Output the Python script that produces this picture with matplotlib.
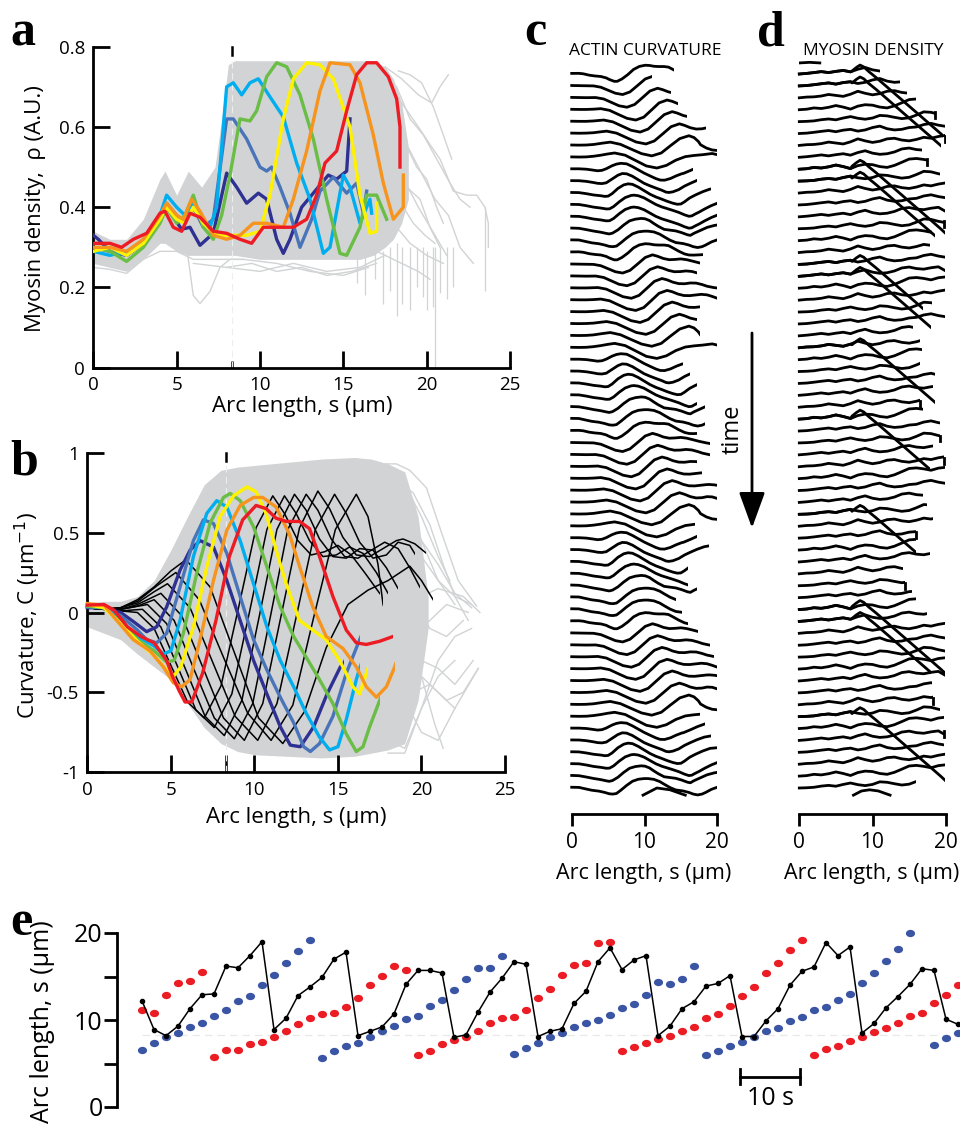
import matplotlib
matplotlib.use("Agg")
import matplotlib.pyplot as plt
import numpy as np
from matplotlib.patches import Rectangle, FancyArrowPatch
from matplotlib.path import Path
from matplotlib.transforms import Affine2D

plt.rcParams['font.family'] = ['Open Sans', 'DejaVu Sans']
plt.rcParams['axes.unicode_minus'] = False

# ---------------- data ----------------
S_REF = 8.3   # reference arc length (dashed line in a, b, e)

# panel a: myosin density of the seven highlighted frames
a_db_s = [0, 0.3, 1, 2, 3, 4, 4.4, 4.8, 5.3, 5.8, 6.4, 7.2, 8, 8.6, 9.2, 9.9, 10.4, 11, 11.4, 11.8, 12.5, 13.2, 14.1, 14.6, 15.2, 15.4]
a_db_v = [0.33, 0.32, 0.29, 0.28, 0.31, 0.37, 0.40, 0.375, 0.345, 0.35, 0.305, 0.335, 0.485, 0.45, 0.41, 0.435, 0.42, 0.32, 0.285, 0.32, 0.40, 0.435, 0.48, 0.47, 0.49, 0.62]
a_mb_s = [0, 1, 2, 3, 4, 4.4, 5, 5.5, 6, 6.6, 7.2, 8, 8.4, 9.2, 10, 10.4, 10.7, 11.2, 11.8, 12.4, 13.1, 13.6, 14.4, 15.2, 15.8, 16.2, 16.4]
a_mb_v = [0.30, 0.29, 0.28, 0.31, 0.37, 0.41, 0.38, 0.36, 0.40, 0.35, 0.37, 0.62, 0.62, 0.57, 0.50, 0.49, 0.50, 0.45, 0.385, 0.30, 0.37, 0.44, 0.475, 0.435, 0.46, 0.385, 0.44]
a_lb_s = [0, 1, 2, 3, 4, 4.4, 5, 5.5, 6, 6.6, 7.0, 7.4, 8, 8.4, 8.9, 9.4, 9.9, 10.6, 11.4, 12.2, 13, 13.8, 14.2, 15, 15.4, 16, 16.6, 16.7]
a_lb_v = [0.29, 0.28, 0.29, 0.31, 0.38, 0.43, 0.40, 0.38, 0.41, 0.36, 0.35, 0.40, 0.70, 0.71, 0.68, 0.71, 0.72, 0.675, 0.625, 0.51, 0.42, 0.285, 0.30, 0.48, 0.45, 0.36, 0.42, 0.385]
a_g_s = [0, 1, 2, 3, 4, 4.4, 5, 5.5, 6, 6.6, 7.2, 7.7, 8.2, 8.8, 9.4, 9.8, 10.4, 11, 11.6, 12.4, 13.2, 14, 14.8, 15.2, 16, 16.4, 17, 17.6]
a_g_v = [0.30, 0.29, 0.265, 0.30, 0.36, 0.40, 0.36, 0.38, 0.43, 0.35, 0.32, 0.38, 0.48, 0.62, 0.615, 0.64, 0.725, 0.76, 0.75, 0.68, 0.57, 0.42, 0.285, 0.28, 0.35, 0.43, 0.43, 0.37]
a_y_s = [0, 1, 2, 3, 4, 4.4, 5, 5.5, 6, 6.6, 7.4, 8.4, 9.2, 10, 10.6, 11.4, 12, 12.8, 13.6, 14.4, 15.4, 16, 16.6, 17, 17]
a_y_v = [0.29, 0.30, 0.28, 0.31, 0.37, 0.40, 0.37, 0.36, 0.40, 0.36, 0.33, 0.33, 0.33, 0.34, 0.43, 0.62, 0.72, 0.76, 0.755, 0.72, 0.60, 0.43, 0.335, 0.34, 0.41]
a_o_s = [0, 1, 2, 3, 4, 4.4, 5, 5.4, 5.9, 6.4, 7.2, 8, 8.8, 9.6, 10.4, 11.4, 12, 12.8, 13.6, 14.2, 15.4, 16, 16.8, 17.4, 18, 18.6, 18.6]
a_o_v = [0.30, 0.30, 0.29, 0.32, 0.38, 0.41, 0.38, 0.37, 0.42, 0.39, 0.33, 0.32, 0.33, 0.36, 0.36, 0.35, 0.42, 0.54, 0.69, 0.76, 0.755, 0.71, 0.58, 0.46, 0.37, 0.40, 0.48]
a_r_s = [0, 1, 1.7, 2.4, 3.2, 4.0, 4.3, 4.8, 5.3, 5.8, 6.4, 7.2, 8.0, 8.8, 9.5, 10.2, 11.0, 12.0, 12.8, 13.4, 13.9, 14.6, 15.2, 15.8, 16.4, 17.0, 17.7, 18.2, 18.4, 18.4]
a_r_v = [0.31, 0.31, 0.30, 0.32, 0.335, 0.385, 0.39, 0.35, 0.34, 0.385, 0.375, 0.34, 0.335, 0.32, 0.31, 0.35, 0.35, 0.35, 0.37, 0.43, 0.51, 0.54, 0.64, 0.73, 0.76, 0.76, 0.725, 0.67, 0.6, 0.5]

# panel a: grey background (all frames)
a_env_s = [0, 1, 2, 3, 4, 4.3, 5, 5.7, 6.5, 7.3, 7.7, 8.1, 8.5, 10, 12, 14, 16, 16.8, 17.5, 18, 18.5, 18.9]
a_env_hi = [0.34, 0.32, 0.32, 0.37, 0.47, 0.49, 0.43, 0.49, 0.45, 0.50, 0.62, 0.755, 0.765, 0.765, 0.765, 0.765, 0.765, 0.765, 0.75, 0.72, 0.66, 0.55]
a_env_lo = [0.26, 0.25, 0.24, 0.27, 0.31, 0.31, 0.29, 0.28, 0.28, 0.28, 0.28, 0.28, 0.28, 0.27, 0.27, 0.27, 0.27, 0.28, 0.30, 0.32, 0.36, 0.42]
a_gray_s = [[5.0, 5.6, 6.0, 6.4, 7.0, 7.6, 8.2, 9.0],
            [0, 1, 2, 3, 4, 5, 6, 7, 9, 11, 13, 15, 16.5],
            [6, 8, 10, 12, 14, 16, 17.5],
            [17.5, 18.5, 19.5, 20.3, 20.8, 21.3],
            [17.5, 18.5, 19.5, 20.3, 20.8, 21.6, 22.4, 23.0, 23.5, 23.7, 23.7],
            [17.5, 18.5, 19.5, 20.5, 21.3, 22.0, 22.8],
            [17.5, 18.5, 19.5, 20.5, 21.2],
            [17.0, 18.0, 19.0, 20.0, 21.0],
            [17.0, 17.8, 18.6, 19.4, 20.0, 20.6, 21.0],
            [17.5, 18.2, 19.0, 19.8, 20.6, 21.4, 22.0, 22.6],
            [18.0, 18.8, 19.6, 20.2, 20.8],
            [16.5, 17.5, 18.5, 19.5, 20.2],
            [18.3, 19.0, 19.7, 20.4, 21.0, 21.5],
            [17.8, 18.6, 19.2, 19.9, 20.5],
            [8, 9.5, 11, 12.5, 14, 15.5, 17]]
a_gray_v = [[0.36, 0.30, 0.18, 0.16, 0.19, 0.25, 0.27, 0.27],
            [0.25, 0.245, 0.235, 0.27, 0.29, 0.29, 0.27, 0.27, 0.27, 0.26, 0.24, 0.23, 0.25],
            [0.26, 0.25, 0.24, 0.26, 0.24, 0.25, 0.28],
            [0.75, 0.72, 0.68, 0.66, 0.70, 0.73],
            [0.70, 0.66, 0.60, 0.55, 0.52, 0.44, 0.43, 0.43, 0.40, 0.36, 0.30],
            [0.64, 0.58, 0.50, 0.42, 0.38, 0.30, 0.26],
            [0.55, 0.48, 0.40, 0.33, 0.28],
            [0.40, 0.36, 0.31, 0.28, 0.26],
            [0.60, 0.62, 0.57, 0.50, 0.47, 0.40, 0.36],
            [0.72, 0.70, 0.62, 0.58, 0.52, 0.46, 0.42, 0.40],
            [0.52, 0.45, 0.42, 0.35, 0.30],
            [0.30, 0.28, 0.26, 0.24, 0.22],
            [0.74, 0.73, 0.71, 0.65, 0.58, 0.52],
            [0.45, 0.40, 0.36, 0.33, 0.31],
            [0.25, 0.26, 0.24, 0.25, 0.23, 0.24, 0.26]]
a_spike_s = [15.8, 16.3, 16.9, 17.4, 17.8, 18.2, 18.5, 19.0, 19.4, 19.8, 20.0, 20.4, 20.5, 20.8, 21.2, 21.6, 23.5]
a_spike_lo = [0.21, 0.18, 0.22, 0.16, 0.19, 0.13, 0.16, 0.144, 0.20, 0.177, 0.144, 0.152, 0.0, 0.185, 0.17, 0.20, 0.19]
a_spike_hi = [0.30, 0.30, 0.30, 0.29, 0.30, 0.31, 0.30, 0.30, 0.30, 0.30, 0.29, 0.30, 0.30, 0.30, 0.30, 0.30, 0.40]

# panel b: curvature frames (DB, MB, LB, G, Y, O, R, then eight black frames)
f_db_s = [0, 1, 2, 2.8, 3.55, 4.15, 4.75, 5.55, 6.15, 6.75, 7.55, 8.35, 9.15, 9.95, 10.75, 11.55, 12.15, 12.75, 13.55, 14.35, 15.15, 15.35, 16.3, 17.3, 18.3, 19.3, 20.1]
f_db_c = [0.03, 0.03, 0.0, -0.06, -0.12, -0.09, 0.035, 0.265, 0.39, 0.45, 0.41, 0.2, -0.05, -0.3, -0.51, -0.715, -0.83, -0.84, -0.715, -0.51, -0.34, -0.32, -0.1, 0.15, 0.35, 0.4, 0.3]
f_mb_s = [0, 1, 2, 3, 3.55, 4.15, 4.75, 5.55, 6.35, 6.95, 7.55, 8.35, 9.15, 9.95, 10.75, 11.55, 12.35, 12.95, 13.35, 13.9, 14.7, 15.5, 16.3, 17.2, 18.2, 19.2, 20.2]
f_mb_c = [0.035, 0.03, -0.02, -0.11, -0.17, -0.19, -0.13, 0.16, 0.45, 0.58, 0.557, 0.37, 0.1, -0.17, -0.36, -0.53, -0.69, -0.84, -0.87, -0.82, -0.65, -0.38, -0.17, 0.05, 0.25, 0.35, 0.3]
f_lb_s = [0, 1, 2, 3, 4, 4.55, 5.0, 5.55, 6.35, 7.15, 7.75, 8.35, 9.15, 9.95, 10.75, 11.55, 12.35, 13.1, 13.9, 14.5, 15.0, 15.5, 16.1, 16.3, 17.0, 18.0, 19.0, 20.0]
f_lb_c = [0.04, 0.03, -0.05, -0.15, -0.21, -0.26, -0.24, -0.05, 0.35, 0.62, 0.70, 0.66, 0.45, 0.18, -0.09, -0.3, -0.465, -0.63, -0.78, -0.86, -0.84, -0.67, -0.42, -0.35, -0.15, 0.1, 0.3, 0.35]
f_g_s = [0, 1, 2, 3, 4, 4.75, 5.2, 5.75, 6.55, 7.35, 8.15, 8.55, 9.15, 9.95, 10.75, 11.55, 12.35, 13.1, 13.9, 14.7, 15.5, 16.1, 16.5, 16.9, 17.5, 18.3, 19.2, 20.1]
f_g_c = [0.04, 0.03, -0.06, -0.17, -0.24, -0.31, -0.30, -0.13, 0.245, 0.56, 0.72, 0.745, 0.70, 0.536, 0.285, 0.035, -0.15, -0.28, -0.42, -0.57, -0.76, -0.87, -0.84, -0.715, -0.55, -0.3, -0.05, 0.15]
f_y_s = [0, 1, 2, 3, 4, 4.75, 5.15, 5.6, 6.35, 7.15, 7.95, 8.75, 9.55, 10.1, 10.7, 11.3, 11.9, 12.7, 13.5, 14.3, 15.1, 15.9, 16.3, 16.7, 16.8, 17.6, 18.6, 19.6, 20.2]
f_y_c = [0.05, 0.03, -0.07, -0.18, -0.27, -0.36, -0.40, -0.34, -0.09, 0.285, 0.6, 0.73, 0.786, 0.755, 0.62, 0.39, 0.18, -0.05, -0.11, -0.17, -0.3, -0.465, -0.51, -0.38, -0.35, -0.15, 0.1, 0.25, 0.3]
f_o_s = [0, 1, 1.6, 2.75, 3.75, 4.55, 5.15, 5.65, 6.15, 6.75, 7.55, 8.35, 9.15, 9.95, 10.5, 11.3, 12.1, 12.7, 13.5, 14.3, 15.3, 16.1, 16.7, 17.3, 17.9, 18.4, 19.2, 20.2]
f_o_c = [0.056, 0.046, -0.03, -0.17, -0.24, -0.34, -0.44, -0.465, -0.42, -0.17, 0.2, 0.515, 0.67, 0.72, 0.72, 0.66, 0.49, 0.29, 0.035, -0.15, -0.225, -0.34, -0.465, -0.53, -0.465, -0.34, -0.1, 0.1]
f_r_s = [0, 1, 1.6, 2.4, 3.2, 4.0, 4.75, 5.1, 5.5, 5.85, 6.25, 6.9, 7.7, 8.5, 9.3, 10.1, 10.7, 11.3, 11.9, 12.7, 13.3, 13.9, 14.7, 15.5, 16.1, 16.7, 17.5, 18.3, 19.3, 20.2]
f_r_c = [0.046, 0.05, 0.015, -0.09, -0.15, -0.19, -0.30, -0.40, -0.49, -0.56, -0.56, -0.38, -0.05, 0.35, 0.58, 0.67, 0.65, 0.59, 0.57, 0.57, 0.525, 0.35, 0.1, -0.11, -0.19, -0.2, -0.18, -0.15, -0.1, -0.05]
k1_s = [0, 1, 2, 3.0, 4.0, 5.0, 6.0, 7.0, 8.0, 9.05, 10.1, 11.1, 11.8, 12.6, 13.4, 14.2, 15.0, 15.8, 16.6, 17.5, 18.5, 19.5, 20.2]
k1_c = [0.03, 0.02, 0.01, 0.0, -0.10, -0.33, -0.56, -0.66, -0.46, 0.03, 0.53, 0.73, 0.62, 0.45, 0.36, 0.38, 0.42, 0.36, 0.25, 0.12, 0.0, -0.1, -0.15]
k2_s = [0, 1, 2, 3.3, 4.4, 5.45, 6.5, 7.6, 8.65, 9.7, 10.75, 11.8, 12.5, 13.3, 14.1, 14.9, 15.7, 16.5, 17.3, 18.0, 19.0, 20.2]
k2_c = [0.03, 0.02, 0.01, 0.02, -0.09, -0.35, -0.61, -0.72, -0.51, 0.0, 0.52, 0.73, 0.62, 0.45, 0.35, 0.36, 0.41, 0.37, 0.25, 0.12, 0.0, -0.1]
k3_s = [0, 1, 2, 3.6, 4.75, 5.9, 7.05, 8.2, 9.25, 10.3, 11.35, 12.4, 13.1, 13.9, 14.7, 15.5, 16.3, 17.1, 17.9, 18.6, 19.5, 20.2]
k3_c = [0.03, 0.02, 0.02, 0.05, -0.07, -0.36, -0.65, -0.77, -0.55, -0.02, 0.52, 0.74, 0.64, 0.46, 0.35, 0.34, 0.40, 0.39, 0.28, 0.15, 0.05, 0.0]
k4_s = [0, 1, 2, 3, 4.0, 5.2, 6.4, 7.6, 8.8, 9.9, 10.95, 12.0, 13.1, 13.8, 14.6, 15.4, 16.2, 17.0, 17.8, 18.6, 19.3, 19.9, 20.3]
k4_c = [0.03, 0.02, 0.02, 0.04, 0.08, -0.05, -0.36, -0.66, -0.79, -0.57, -0.03, 0.52, 0.74, 0.64, 0.46, 0.35, 0.34, 0.39, 0.44, 0.40, 0.28, 0.16, 0.1]
k5_s = [0, 1, 2, 3, 4.4, 5.65, 6.9, 8.15, 9.4, 10.5, 11.6, 12.7, 13.8, 14.5, 15.3, 16.1, 16.9, 17.7, 18.5, 18.9, 19.6, 20.3]
k5_c = [0.03, 0.02, 0.02, 0.05, 0.12, -0.02, -0.34, -0.66, -0.8, -0.57, -0.02, 0.53, 0.76, 0.65, 0.47, 0.36, 0.35, 0.40, 0.45, 0.46, 0.43, 0.37]
k6_s = [0, 1, 2, 3, 4, 4.8, 6.15, 7.5, 8.85, 10.2, 11.35, 12.5, 13.65, 14.8, 15.5, 16.3, 17.1, 17.9, 18.6, 19.3, 20.0]
k6_c = [0.03, 0.02, 0.03, 0.06, 0.13, 0.18, 0.03, -0.31, -0.65, -0.8, -0.57, -0.03, 0.52, 0.74, 0.62, 0.44, 0.34, 0.36, 0.44, 0.42, 0.30]
k7_s = [0, 1, 2, 3, 4.2, 5.3, 6.7, 8.15, 9.6, 11.0, 12.3, 13.55, 14.85, 16.1, 16.8, 17.4, 17.7, 18.5, 19.3, 20.2]
k7_c = [0.03, 0.02, 0.03, 0.07, 0.17, 0.25, 0.08, -0.28, -0.63, -0.8, -0.58, -0.03, 0.52, 0.74, 0.6, 0.3, 0.05, -0.2, -0.35, -0.4]
k8_s = [0, 1, 2, 3, 4, 5, 5.9, 7.35, 8.8, 10.25, 11.7, 13.0, 14.3, 15.6, 16.8, 18.0, 19.3, 20.0, 20.7]
k8_c = [0.03, 0.02, 0.03, 0.08, 0.16, 0.26, 0.33, 0.16, -0.25, -0.66, -0.82, -0.62, -0.22, 0.05, 0.14, 0.2, 0.29, 0.2, 0.08]
b_end = [15.35, 16.3, 16.3, 17.5, 16.8, 18.4, 18.3, 17.5, 18.0, 18.6, 19.9, 20.3, 19.6, 17.7, 20.7]

b_env_s = [0, 1, 2, 3, 4, 5, 6, 7, 8, 9, 10, 12, 14, 16, 17, 18, 19, 19.8, 20.4]
b_env_hi = [0.06, 0.07, 0.07, 0.1, 0.2, 0.39, 0.6, 0.8, 0.89, 0.91, 0.92, 0.94, 0.96, 0.97, 0.96, 0.93, 0.88, 0.6, 0.1]
b_env_lo = [-0.09, -0.13, -0.17, -0.26, -0.34, -0.42, -0.57, -0.72, -0.82, -0.87, -0.89, -0.9, -0.91, -0.9, -0.88, -0.86, -0.82, -0.55, -0.1]
b_gray_s = [[17, 18.5, 19.3, 20.3, 21.2, 22.2, 23.3],
            [17, 18, 19, 20, 21, 22],
            [16, 17, 18, 19, 20, 21, 22.5, 23.5],
            [17, 18, 19, 20, 21, 22, 23.1],
            [18, 19, 20, 21, 22],
            [19, 20, 20.8, 21.3],
            [18, 19.5, 20.5, 21.5, 22.5],
            [16, 18, 20, 21.5, 22.8],
            [19, 20, 21, 22, 23],
            [18, 19, 20, 21, 22, 23.4],
            [17.5, 18.5, 19.5, 20.5, 21.3, 22.0, 22.8],
            [18, 19, 20, 21, 22, 23],
            [17, 18, 19, 20, 21, 22, 23],
            [18.5, 19.5, 20.5, 21.5, 22.5, 23.4],
            [17, 18, 19, 20, 21, 22],
            [19, 20, 21, 21.7]]
b_gray_v = [[0.93, 0.93, 0.89, 0.78, 0.5, 0.2, 0.04],
            [0.9, 0.85, 0.7, 0.45, 0.2, 0.05],
            [0.5, 0.3, 0.15, 0.08, 0.1, 0.15, 0.1, 0.0],
            [-0.85, -0.7, -0.5, -0.3, -0.35, -0.45, -0.3],
            [-0.88, -0.88, -0.6, -0.4, -0.3],
            [-0.2, -0.4, -0.7, -0.85],
            [0.3, 0.1, -0.1, -0.15, -0.05],
            [-0.6, -0.4, -0.1, 0.05, 0.0],
            [0.6, 0.45, 0.3, 0.12, 0.03],
            [-0.3, -0.55, -0.75, -0.8, -0.6, -0.35],
            [0.8, 0.82, 0.75, 0.55, 0.3, 0.1, -0.05],
            [0.65, 0.55, 0.35, 0.2, 0.1, 0.05],
            [-0.6, -0.8, -0.85, -0.6, -0.3, -0.15, -0.1],
            [-0.7, -0.5, -0.45, -0.55, -0.5, -0.35],
            [0.0, -0.15, -0.3, -0.4, -0.5, -0.6],
            [0.8, 0.6, 0.35, 0.2]]

# panel c: frame shown in each trace (index into the frames above) and trace length
c_frame = [6, 7, 8, 10, 11, 12, 13, 14,
           0, 1, 2, 3, 3, 4, 5, 6, 7, 8, 9, 10, 11, 12, 13, 14,
           0, 1, 2, 3, 4, 5, 6, 7, 8, 9, 10, 11, 12, 13, 14,
           0, 1, 2, 3, 4, 5, 5, 6, 7, 8, 9, 10, 11, 12, 13, 14,
           0, 1, 2, 3, 4, 5]
c_end = [14.0, 11.0, 13.7, 14.6, 15.8, 18.5, 19.9, 19.9, 16.7, 17.2,
         19.2, 19.9, 19.9, 19.9, 19.9, 18.1, 17.6, 17.2, 19.9, 19.9,
         17.6, 17.2, 17.6, 19.9, 15.3, 16.2, 17.2, 17.2, 18.3, 18.3,
         17.2, 19.0, 19.0, 17.2, 17.9, 19.9, 19.9, 19.9, 16.9, 17.2,
         18.8, 16.0, 16.0, 17.2, 14.3, 15.2, 16.0, 17.4, 19.0, 19.5,
         19.9, 19.9, 19.9, 19.9, 17.6, 18.3, 19.2, 19.9, 19.9, 19.9, 19.9]
c_part_s = [9.8, 11.7, 13.5, 15.6]
c_part_v = [0.0, 0.6, 0.45, 0.0]

# panel d: myosin density traces (shape index, length, bright-front tails, end hooks)
d_grid = [0, 1, 2, 3, 4, 5, 6, 7, 8, 9, 10, 11, 12, 13, 14, 15, 16, 17, 18, 19, 20]
d_shape = [
    [0.00, 0.05, 0.12, 0.20, 0.12, 0.22, 0.30, 0.18, 0.40, 0.55, 0.35, 0.25, 0.30, 0.45, 0.70, 0.78, 0.65, 0.60, 0.72, 0.80, 0.45],
    [0.00, 0.03, 0.10, 0.18, 0.25, 0.15, 0.28, 0.35, 0.20, 0.30, 0.50, 0.62, 0.40, 0.30, 0.35, 0.50, 0.55, 0.75, 0.85, 0.70, 0.60],
    [0.00, 0.06, 0.08, 0.15, 0.28, 0.20, 0.12, 0.30, 0.55, 0.38, 0.25, 0.35, 0.55, 0.60, 0.45, 0.38, 0.50, 0.68, 0.60, 0.75, 0.85],
    [0.00, 0.04, 0.15, 0.10, 0.20, 0.35, 0.22, 0.05, 0.30, 0.42, 0.38, 0.22, 0.15, 0.32, 0.58, 0.85, 0.90, 0.82, 0.70, 0.88, 0.95],
    [0.00, 0.02, 0.06, 0.16, 0.22, 0.15, 0.30, 0.42, 0.28, 0.20, 0.30, 0.52, 0.48, 0.36, 0.25, 0.32, 0.55, 0.82, 0.78, 0.62, 0.50],
]
d_pick = [0, 1, 2, 3, 4, 1, 2, 0, 3, 4, 2, 1, 0, 4, 3, 2, 1, 0, 3, 2,
          4, 1, 0, 2, 3, 4, 1, 0, 2, 3, 1, 4, 0, 2, 3, 1, 0, 4, 2, 1,
          3, 0, 2, 4, 1, 3, 0, 2, 1, 4, 3, 0, 1, 2, 4, 3, 0, 1, 2, 3, 4]
d_end = [11.0, 13.8, 14.7, 16.0, 18.5, 19.9, 19.9, 16.7, 17.4, 19.2,
         19.9, 19.9, 19.9, 19.7, 18.1, 17.9, 19.9, 19.9, 19.9, 19.9,
         18.1, 19.9, 15.6, 16.5, 16.7, 16.5, 18.5, 18.3, 16.5, 16.9,
         19.2, 19.2, 18.3, 19.7, 19.9, 19.9, 16.9, 17.4, 18.3, 16.0,
         16.0, 17.9, 14.2, 14.4, 15.4, 16.0, 17.4, 19.9, 19.9, 19.9,
         19.9, 19.9, 18.1, 18.3, 19.2, 19.7, 19.7, 19.7, 19.9, 19.9, 16.0]
tail_s = [7.2, 7.8, 8.3, 8.8, 9.5, 10.5, 12.0, 13.5, 15.0, 16.5, 18.0, 19.3, 20.0]
tail_v = [0.25, 0.55, 0.75, 0.6, 0.2, -0.3, -1.1, -1.9, -2.7, -3.5, -4.3, -5.0, -5.4]
d_tail_k = [0, 1, 8, 9, 16, 17, 23, 29, 37, 45, 46, 54]
d_tail_end = [19.6, 19.4, 19.9, 18.5, 16.9, 18.0, 18.5, 17.9, 16.0, 19.9, 18.0, 19.9]
d_hook_k = [4, 6, 8, 13, 28, 31, 33, 39, 43, 53, 56]
d_top_s = [0, 1.4, 2.8]
d_top_v = [0.0, 0.05, 0.0]
d_part_s = [7.4, 8.5, 9.6, 10.8, 12.4]
d_part_v = [0.0, 0.35, 0.45, 0.35, 0.0]

# panel e: one point every 2 s
FRAME_DT = 2.0
e_front = [12.2, 8.9, 8.2, 9.3, 11.3, 12.9, 13.0, 16.2, 16.0, 17.4, 19.0,
           8.9, 10.2, 12.8, 13.8, 14.9, 17.0, 17.8,
           8.2, 8.7, 9.2, 10.7, 14.1, 15.7, 15.7, 15.4,
           8.0, 8.3, 10.9, 13.2, 14.8, 16.7, 16.4,
           8.1, 8.7, 9.0, 11.9, 13.3, 16.7, 18.3, 15.8, 16.9, 17.4,
           8.2, 9.3, 11.3, 12.1, 13.9, 14.2, 15.1,
           8.1, 8.1, 9.9, 11.3, 14.0, 15.6, 16.1, 18.9, 17.4, 18.4,
           8.5, 9.6, 11.4, 12.7, 14.1, 15.9, 15.7, 10.1, 9.5]
e_blue = [6.6, 7.4, 8.0, 8.5, 9.2, 9.7, 10.5, 11.2, 12.2, 12.8, 14.0, 15.2, 16.6, 17.9, 19.2,
          5.6, 6.4, 7.0, 7.4, 8.1, 8.7, 9.3, 10.1, 10.5, 11.6, 12.3, 13.4, 14.7, 16.0, 16.0, 17.4,
          6.1, 6.8, 7.4, 8.0, 8.5, 9.2, 9.7, 10.0, 10.6, 11.4, 11.8, 12.9, 14.4, 14.1, 14.7, 16.2,
          6.0, 6.4, 7.0, 7.5, 8.1, 8.7, 9.1, 9.9, 10.4, 11.1, 11.5, 12.3, 13.0, 14.3, 15.4, 16.8, 18.2, 20.0,
          np.nan, 7.1, 7.9, 8.5]
e_red = [11.1, 10.8, 12.9, 14.2, 14.5, 15.5,
         5.8, 6.6, 6.6, 7.2, 7.5, 8.0, 8.7, 9.5, 10.2, 10.7, 10.8, 11.5, 12.5, 14.0, 15.1, 16.2, 15.7,
         6.0, 6.4, 7.2, 7.7, 8.1, 8.7, 9.6, 10.2, 10.3, 11.1, 12.5, 13.6, 15.2, 16.3, 16.6, 18.9, 19.0,
         6.4, 6.9, 7.3, 7.8, 8.2, 8.7, 9.2, 10.2, 10.7, 11.6, 12.8, 13.8, 15.4, 16.6, 18.0, 19.2,
         6.0, 6.7, 7.0, 7.6, 8.1, 8.6, 9.1, 9.7, 10.5, 10.8, 11.9, 12.9, 14.0]
SCALE_T0, SCALE_LEN, SCALE_Y = 99.7, 10, 3.5

# ---------------- style ----------------
W, H = 960, 1131
GRAY = '#d1d3d4'
SERIES = ['#2e3192', '#4a74ba', '#00aeef', '#6abd45', '#fff200', '#f7941d', '#ed1c24']
BLUE, RED = '#3b55a5', '#ec1c24'

fig = plt.figure(figsize=(W / 100, H / 100), dpi=100)


def px_axes(left, top, right, bottom):
    return fig.add_axes([left / W, 1 - bottom / H, (right - left) / W, (bottom - top) / H])


def ftext(x, y, s, **kw):
    return fig.text(x / W, 1 - y / H, s, **kw)


def clip_to(line, ax, s_end, y0, half=8):
    line.set_clip_path(Rectangle((-1, y0 - half), s_end + 1, 2 * half, transform=ax.transData))


def frame_axes(ax, ylim, yticks, ylabels, bottom_ref_len):
    ax.set_xlim(0, 25)
    ax.set_ylim(*ylim)
    for side in ('top', 'right'):
        ax.spines[side].set_visible(False)
    for side in ('left', 'bottom'):
        ax.spines[side].set_linewidth(2)
    ax.set_xticks([0, 5, 10, 15, 20, 25])
    ax.set_yticks(yticks, ylabels)
    ax.tick_params(which='major', direction='in', length=12, width=2, labelsize=13.5, pad=6)
    ax.set_xticks([S_REF], minor=True)
    ax.tick_params(which='minor', direction='in', length=bottom_ref_len, width=1.8)
    ax.axvline(S_REF, color='#eeeeee', lw=0.8, dashes=(6, 4), zorder=2)
    top = ylim[1]
    span = ylim[1] - ylim[0]
    ax.plot([S_REF, S_REF], [top - 0.025 * span, top], color='k', lw=1.8, clip_on=False, zorder=5)


# ---------------- panel a ----------------
ax = px_axes(93.3, 46.7, 510, 367.7)
ax.fill_between(a_env_s, a_env_lo, a_env_hi, color=GRAY, lw=0, zorder=1)
for xs, ys in zip(a_gray_s, a_gray_v):
    ax.plot(xs, ys, color=GRAY, lw=1.0, zorder=1)
ax.vlines(a_spike_s, a_spike_lo, a_spike_hi, color=GRAY, lw=0.9, zorder=1)
a_curves = [(a_db_s, a_db_v), (a_mb_s, a_mb_v), (a_lb_s, a_lb_v), (a_g_s, a_g_v),
            (a_y_s, a_y_v), (a_o_s, a_o_v), (a_r_s, a_r_v)]
for (xs, ys), col in zip(a_curves, SERIES):
    ax.plot(xs, ys, color=col, lw=2.4, solid_joinstyle='round', zorder=3)
frame_axes(ax, (0, 0.8), [0, 0.2, 0.4, 0.6, 0.8], ['0', '0.2', '0.4', '0.6', '0.8'], 5)
ftext(302, 406, 'Arc length, s (μm)', ha='center', va='center', fontsize=16)
ftext(36, 209, 'Myosin density,  ρ (A.U.)', ha='center', va='center', rotation=90, fontsize=16)

# ---------------- panel b ----------------
frames_s = [f_db_s, f_mb_s, f_lb_s, f_g_s, f_y_s, f_o_s, f_r_s, k1_s, k2_s, k3_s, k4_s, k5_s, k6_s, k7_s, k8_s]
frames_c = [f_db_c, f_mb_c, f_lb_c, f_g_c, f_y_c, f_o_c, f_r_c, k1_c, k2_c, k3_c, k4_c, k5_c, k6_c, k7_c, k8_c]
ax = px_axes(87.3, 452.7, 505, 772.3)
ax.fill_between(b_env_s, b_env_lo, b_env_hi, color=GRAY, lw=0, zorder=1)
for xs, ys in zip(b_gray_s, b_gray_v):
    ax.plot(xs, ys, color=GRAY, lw=1.0, zorder=1)
for i in range(7, 15):
    ln, = ax.plot(frames_s[i], frames_c[i], color='k', lw=1.1, zorder=3)
    clip_to(ln, ax, b_end[i], 0, half=2)
for i in range(7):
    ln, = ax.plot(frames_s[i], frames_c[i], color=SERIES[i], lw=2.4, solid_joinstyle='round', zorder=4)
    clip_to(ln, ax, b_end[i], 0, half=2)
frame_axes(ax, (-1, 1), [-1, -0.5, 0, 0.5, 1], ['-1', '-0.5', '0', '0.5', '1'], 12)
ftext(296, 818, 'Arc length, s (μm)', ha='center', va='center', fontsize=16)
ftext(28, 615, 'Curvature, C (μm$^{-1}$)', ha='center', va='center', rotation=90, fontsize=16)

# ---------------- panels c, d ----------------
SPACING = 11.9   # pixels between successive traces
C_SCALE = 1.1    # trace units per unit curvature


def trace_axes(x0, x1):
    ax = px_axes(x0, 40, x1, 814)
    ax.set_xlim(0, 20)
    ax.set_ylim(-(814 - 74) / SPACING, (74 - 40) / SPACING)
    for side in ('top', 'right', 'left'):
        ax.spines[side].set_visible(False)
    ax.spines['bottom'].set_linewidth(2)
    ax.set_yticks([])
    ax.set_xticks([0, 10, 20])
    ax.tick_params(direction='out', length=8.6, width=2, labelsize=15, pad=4)
    return ax


ax = trace_axes(571.7, 717.3)
for k, (fi, send) in enumerate(zip(c_frame, c_end)):
    ys = -k + C_SCALE * np.array(frames_c[fi])
    ln, = ax.plot(frames_s[fi], ys, color='k', lw=2.0)
    clip_to(ln, ax, send, -k)
ax.plot(c_part_s, -60.6 + np.array(c_part_v), color='k', lw=2.0)
ftext(645, 51, 'ACTIN CURVATURE', ha='center', va='center', fontsize=12.5)
ftext(644, 873, 'Arc length, s (μm)', ha='center', va='center', fontsize=15.5)

ax = trace_axes(799.3, 945.7)
for k, (pi, send) in enumerate(zip(d_pick, d_end)):
    ln, = ax.plot(d_grid, -k + np.array(d_shape[pi]), color='k', lw=2.0)
    clip_to(ln, ax, send, -k)
for k, tend in zip(d_tail_k, d_tail_end):
    base = d_shape[d_pick[k]]
    xs = d_grid[:8] + tail_s
    ys = -k + np.array(base[:8] + tail_v)
    ln, = ax.plot(xs, ys, color='k', lw=2.0)
    ln.set_clip_path(Rectangle((-1, -k - 8), tend + 1, 16, transform=ax.transData))
for k in d_hook_k:
    e = d_end[k]
    v = -k + d_shape[d_pick[k]][int(e)]
    ax.plot([e, e], [v, v - 0.5], color='k', lw=2.0)
ax.plot(d_top_s, 0.93 + np.array(d_top_v), color='k', lw=2.0)
ax.plot(d_part_s, -60.6 + np.array(d_part_v), color='k', lw=2.0)
ftext(873, 51, 'MYOSIN DENSITY', ha='center', va='center', fontsize=12.5)
ftext(872, 873, 'Arc length, s (μm)', ha='center', va='center', fontsize=15.5)

# time arrow
fig.add_artist(FancyArrowPatch((752 / W, 1 - 333 / H), (752 / W, 1 - 528 / H),
                               transform=fig.transFigure, arrowstyle='-|>,head_length=0.55,head_width=0.2',
                               mutation_scale=40, lw=2, color='k', shrinkA=0, shrinkB=0))
ftext(733, 429, 'time', ha='center', va='center', rotation=90, fontsize=17)

# ---------------- panel e ----------------
ax = px_axes(117, 933, 960, 1107)
t = np.arange(len(e_front)) * FRAME_DT
ax.set_xlim(-25 / 6, (960 - 142) / 6)
ax.set_ylim(0, 20)
for side in ('top', 'right', 'bottom'):
    ax.spines[side].set_visible(False)
ax.spines['left'].set_linewidth(2)
ax.set_xticks([])
ax.set_yticks([0, 5, 10, 15, 20], ['0', '', '10', '', '20'])
ax.tick_params(direction='out', length=9.4, width=2, labelsize=18, pad=1)
ax.axhline(S_REF, color='#e8e8e8', lw=0.9, dashes=(6, 4), xmin=0.03, zorder=1)
dot = Path.unit_circle().transformed(Affine2D().scale(1.0, 0.8))
ax.plot(t, e_blue, ls='none', marker=dot, ms=6.6, color=BLUE, mec='none', clip_on=False, zorder=2)
ax.plot(t, e_red, ls='none', marker=dot, ms=6.6, color=RED, mec='none', clip_on=False, zorder=2)
ax.plot(t, e_front, color='k', lw=1.1, marker='o', ms=3, clip_on=False, zorder=3)
ax.plot([SCALE_T0, SCALE_T0 + SCALE_LEN], [SCALE_Y, SCALE_Y], color='k', lw=2)
for tx in (SCALE_T0, SCALE_T0 + SCALE_LEN):
    ax.plot([tx, tx], [SCALE_Y - 0.85, SCALE_Y + 0.85], color='k', lw=2)
ax.text(SCALE_T0 + SCALE_LEN / 2, 1.0, '10 s', ha='center', va='center', fontsize=18)
ftext(43, 1022, 'Arc length, s (μm)', ha='center', va='center', rotation=90, fontsize=18)

# panel letters
for lx, ly, lab in [(10, 45, 'a'), (10, 475, 'b'), (524, 45, 'c'), (757, 45, 'd'), (10, 935, 'e')]:
    ftext(lx, ly, lab, fontfamily='Liberation Serif', fontweight='bold', fontsize=36, va='baseline')

fig.savefig('out.png', dpi=100)
